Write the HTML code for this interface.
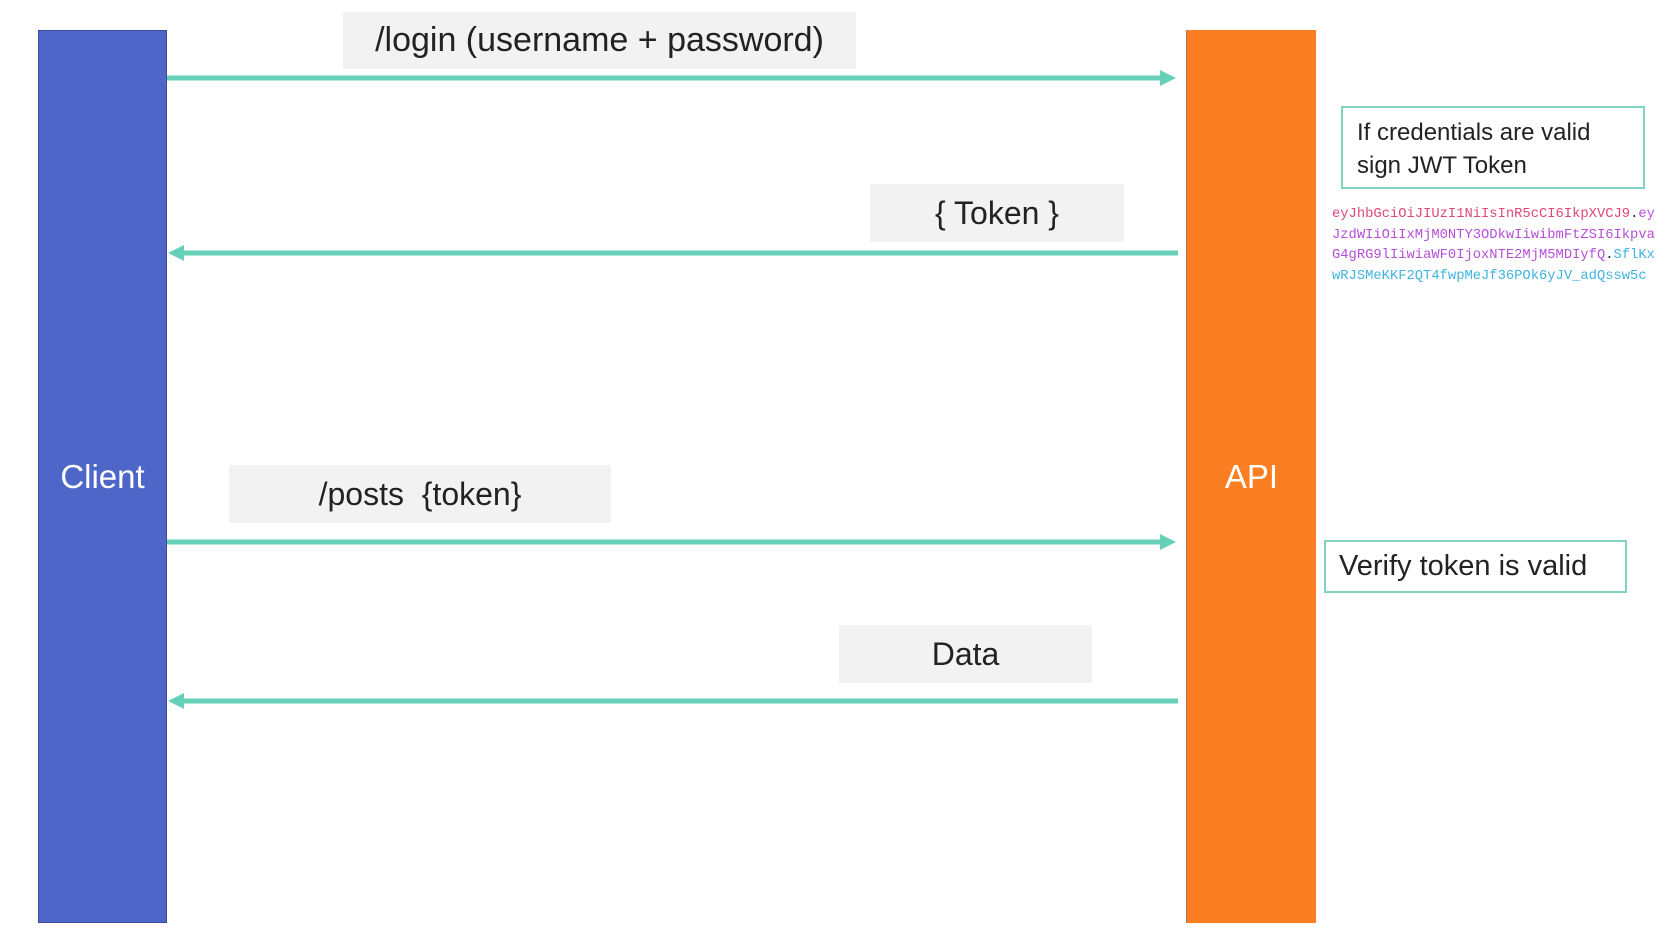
<!DOCTYPE html>
<html><head><style>
body{margin:0;width:1667px;height:936px;background:#fff;position:relative;overflow:hidden;font-family:"Liberation Sans",sans-serif;color:#222}
.a{position:absolute}
.lbl{background:#f2f2f2;display:flex;align-items:center;justify-content:center;font-size:32px;color:#222}
.note{border:2px solid #7fd3c3;box-sizing:border-box;font-size:24px;color:#222}
.mono{font-family:"Liberation Mono",monospace;font-size:13.8px;white-space:pre;line-height:20.5px}
</style></head><body>
<div class="a" style="left:38px;top:30px;width:129px;height:893px;background:#4e66c8;border:1px solid #3a4c9a;box-sizing:border-box;display:flex;align-items:center;justify-content:center;color:#fff;font-size:33px">Client</div>
<div class="a" style="left:1186px;top:30px;width:130px;height:893px;background:#fb7f22;border-left:1px solid #b66;box-sizing:border-box;display:flex;align-items:center;justify-content:center;color:#fff;font-size:33px">API</div>

<div class="a lbl" style="left:343px;top:12px;width:513px;height:57px;font-size:34px">/login (username + password)</div>
<div class="a lbl" style="left:870px;top:184px;width:254px;height:58px">{ Token }</div>
<div class="a lbl" style="left:229px;top:465px;width:382px;height:58px">/posts&nbsp; {token}</div>
<div class="a lbl" style="left:839px;top:625px;width:253px;height:58px">Data</div>

<svg class="a" style="left:0;top:0" width="1667" height="936">
<g stroke="#66d1b8" stroke-width="5" fill="#66d1b8">
<line x1="167" y1="78" x2="1162" y2="78"/><polygon points="1160,70 1176,78 1160,86" stroke="none"/>
<line x1="182" y1="253" x2="1178" y2="253"/><polygon points="184,245 168,253 184,261" stroke="none"/>
<line x1="167" y1="542" x2="1162" y2="542"/><polygon points="1160,534 1176,542 1160,550" stroke="none"/>
<line x1="182" y1="701" x2="1178" y2="701"/><polygon points="184,693 168,701 184,709" stroke="none"/>
</g></svg>

<div class="a note" style="left:1341px;top:106px;width:304px;height:83px;padding:8px 0 0 14px;line-height:33px">If credentials are valid<br>sign JWT Token</div>
<div class="a mono" style="left:1332px;top:205px"><span style="color:#e0457b">eyJhbGciOiJIUzI1NiIsInR5cCI6IkpXVCJ9</span><span style="color:#222">.</span><span style="color:#b54fd8">ey</span>
<span style="color:#b54fd8">JzdWIiOiIxMjM0NTY3ODkwIiwibmFtZSI6Ikpva</span>
<span style="color:#b54fd8">G4gRG9lIiwiaWF0IjoxNTE2MjM5MDIyfQ</span><span style="color:#222">.</span><span style="color:#3fb3e0">SflKx</span>
<span style="color:#3fb3e0">wRJSMeKKF2QT4fwpMeJf36POk6yJV_adQssw5c</span></div>
<div class="a note" style="left:1324px;top:540px;width:303px;height:53px;display:flex;align-items:center;padding-left:13px;font-size:29px">Verify token is valid</div>
</body></html>
